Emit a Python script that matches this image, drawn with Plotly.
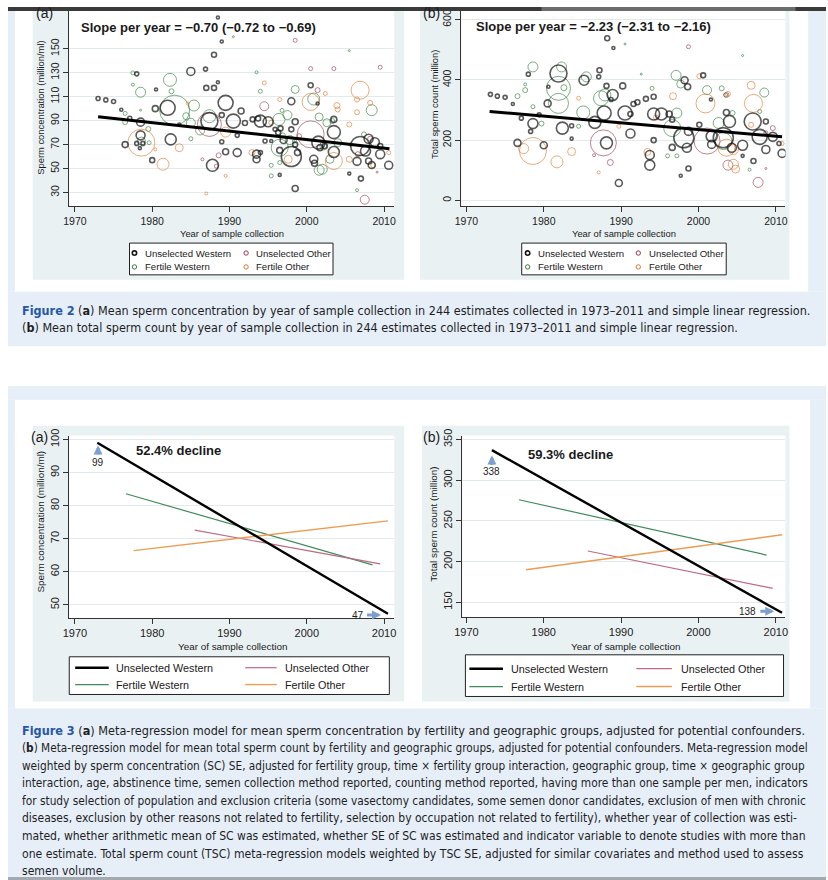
import plotly.graph_objects as go

W, H = 828, 880
SANS = "Liberation Sans, Arial, sans-serif"
CAP = "Liberation Sans Narrow, DejaVu Sans Condensed, Liberation Sans, sans-serif"

# ---------------- Figure 2 (a): sperm concentration scatter ----------------
a_uw_year = [1973.0, 1974.0, 1975.0, 1976.0, 1977.1, 1978.0, 1978.5, 1978.5, 1978.0, 1976.5, 1978.4, 1978.8,
             1980.0, 1980.5, 1980.4, 1982.0, 1982.4, 1985.0, 1983.5, 1986.9, 1987.0, 1988.0, 1988.0, 1988.5,
             1989.0, 1988.5, 1987.4, 1987.8, 1989.0, 1989.5, 1989.0, 1989.5, 1990.5, 1991.0, 1991.0, 1991.5,
             1992.0, 1993.0, 1993.7, 1993.5, 1993.5, 1994.0, 1994.0, 1995.0, 1994.6, 1995.4, 1996.3, 1995.9,
             1996.6, 1996.5, 1996.5, 1997.0, 1998.0, 1998.0, 1998.0, 1998.5, 1998.5, 1998.5, 1998.8, 2000.5,
             2001.4, 2001.0, 2001.5, 2001.7, 2000.9, 2003.5, 2003.5, 2003.5, 2002.3, 2005.5, 2006.9, 2007.0,
             2007.6, 2008.0, 2008.4, 2008.8, 2009.5, 2010.6, 2009.5, 2006.5, 2008.0]
a_uw_val = [108.4, 107.3, 106, 99, 92, 129, 88.7, 77.7, 71, 70, 67, 71,
            57, 116, 100, 100.7, 74.3, 131, 86.8, 133, 117.3, 117.3, 145, 122,
            156, 176, 89.6, 52.7, 72.4, 104.8, 94.6, 64, 89.6, 63.3, 77.7, 98,
            88, 91, 91.8, 62, 57.7, 63.3, 89.6, 89, 73, 73, 80, 82.7,
            83.5, 65.2, 44.7, 73.8, 106.2, 82.7, 60, 89, 33.3, 70, 63.3, 119.5,
            104.3, 54.4, 71.6, 67.4, 57.7, 91, 80.4, 63.8, 68.8, 45.8, 68.8, 41.6,
            64.6, 56.3, 53, 72, 62, 52.7, 68.8, 56, 74.8]
a_uw_size = [4, 4, 4, 3, 4, 4, 8, 9, 4, 6, 3, 4,
             5, 3, 6, 15, 11, 8, 3, 4, 5, 5, 5, 3,
             3, 3, 17, 12, 4, 15, 5, 6, 14, 8, 4, 6,
             5, 5, 5, 8, 7, 4, 12, 10, 4, 3, 5, 4,
             5, 6, 3, 7, 7, 5, 20, 6, 6, 5, 6, 5,
             3, 6, 13, 6, 8, 6, 13, 11, 5, 3, 19, 5,
             10, 6, 7, 9, 9, 8, 5, 8, 9]

a_fw_year = [1977.5, 1977.5, 1978.5, 1976.5, 1976.5, 1978.5, 1979.5, 1978.6, 1979.6, 1982.3, 1982.9, 1982.5,
             1984.4, 1985.0, 1985.4, 1985.0, 1986.2, 1987.4, 1993.5, 1994.0, 1996.4, 1996.8, 1997.5, 1996.5,
             1995.4, 1995.4, 1996.5, 1996.9, 1998.5, 1998.4, 1997.8, 2000.9, 2001.6, 2002.0, 2002.2, 2002.6,
             2003.3, 2003.0, 2004.0, 2005.5, 2006.5, 2007.4, 2008.4, 2001.6, 1990.5]
a_fw_val = [129.8, 120, 113.7, 96, 88.8, 98.7, 83, 73, 71.6, 124, 98.7, 114.5,
            93.7, 88.2, 102.6, 74.9, 81.8, 93.7, 130.3, 114.5, 91, 98.5, 94.6, 67.4,
            52.7, 43.9, 55, 77.7, 116, 73, 73.8, 108, 93, 49.4, 68.8, 88.2,
            89.6, 57.7, 71.6, 148.4, 32, 78.5, 98.7, 48.6, 160]
a_fw_size = [4, 3, 10, 4, 5, 2, 5, 8, 4, 13, 30, 5,
             7, 9, 11, 4, 9, 13, 3, 4, 12, 4, 9, 17,
             4, 4, 4, 5, 8, 4, 9, 12, 8, 10, 8, 8,
             5, 8, 8, 2, 3, 5, 11, 10, 2]

a_uo_year = [1998.5, 2000.5, 2003.5, 2009.5, 2001.4, 1994.5, 1987.4, 1988.6, 1986.5, 2000.5, 2008.2, 2009.1,
             2006.6, 1999.0, 2007.5, 1988.3]
a_uo_val = [157, 133.4, 133.4, 134.5, 115.4, 102, 86.8, 61, 57.7, 78.5, 74.9, 47,
            62, 77, 24, 52]
a_uo_size = [4, 4, 4, 4, 5, 9, 24, 5, 3, 27, 5, 2,
             5, 5, 9, 4]

a_fo_year = [1978.6, 1981.4, 1980.4, 1983.5, 1984.6, 1987.0, 1989.5, 1989.5, 1994.5, 1996.5, 1995.4, 2000.5,
             1997.6, 2002.4, 2003.9, 2004.0, 2006.9, 2006.5, 2006.5, 2005.5, 2008.2, 2003.5, 2008.6, 2010.6,
             2005.7, 1992.9, 2005.5]
a_fo_val = [71.6, 53.6, 66, 67.4, 104.3, 29.2, 43.9, 80.4, 121.5, 107.6, 88.2, 105.6,
            57.7, 112.6, 102.6, 99.3, 115.4, 107.6, 97, 86.8, 104.8, 56.3, 52.7, 63.3,
            70, 63.3, 57.7]
a_fo_size = [27, 12, 3, 8, 3, 3, 3, 10, 4, 4, 5, 17,
             8, 4, 6, 5, 18, 5, 5, 5, 5, 17, 5, 4,
             4, 6, 6]

a_reg_year = [1973.0, 2010.7]
a_reg_val = [93.2, 66.6]

# ---------------- Figure 2 (b): total sperm count scatter ----------------
b_uw_year = [1973.1, 1974.0, 1975.0, 1976.0, 1977.1, 1976.6, 1978.0, 1978.6, 1978.3, 1979.4, 1980.0, 1980.5,
             1980.6, 1981.9, 1982.4, 1983.6, 1983.6, 1985.2, 1987.2, 1987.1, 1986.6, 1987.8, 1988.1, 1988.1,
             1988.7, 1988.2, 1989.0, 1988.9, 1989.7, 1990.2, 1990.5, 1991.2, 1991.2, 1991.6, 1992.1, 1993.2,
             1993.7, 1993.7, 1994.2, 1994.2, 1994.2, 1995.2, 1996.2, 1996.6, 1996.6, 1997.7, 1998.1, 1998.2,
             1998.6, 1998.7, 1998.7, 1998.5, 2000.1, 2000.6, 2001.6, 2001.7, 2001.7, 2003.2, 2003.6, 2004.0,
             2004.3, 2005.7, 2005.7, 2007.1, 2007.0, 2007.9, 2008.7, 2008.7, 2009.6, 2010.8, 2010.4]
b_uw_val = [352, 346, 342, 320, 273, 191, 419, 255, 229, 284, 183, 322,
            377, 421, 240, 205, 248, 399, 432, 410, 259, 290, 191, 380,
            335, 538, 506, 350, 58, 380, 290, 222, 287, 320, 326, 337,
            117, 151, 344, 200, 287, 287, 287, 176, 268, 82, 208, 399,
            377, 106, 229, 175, 251, 415, 335, 213, 186, 208, 292, 262,
            175, 183, 148, 131, 262, 211, 262, 169, 211, 156, 189]
b_uw_size = [4, 4, 4, 3, 4, 7, 4, 10, 4, 4, 7, 7,
             3, 17, 12, 3, 4, 10, 5, 4, 12, 14, 12, 5,
             4, 5, 3, 11, 7, 6, 14, 9, 5, 5, 5, 5,
             10, 9, 5, 5, 12, 12, 6, 6, 5, 3, 20, 7,
             6, 5, 8, 9, 5, 5, 3, 11, 8, 20, 6, 12,
             9, 10, 3, 5, 17, 15, 5, 8, 9, 8, 4]

b_fw_year = [1978.6, 1977.6, 1977.6, 1976.6, 1978.6, 1979.7, 1981.9, 1982.3, 1982.6, 1981.9, 1985.1, 1985.5,
             1984.5, 1987.4, 1987.9, 1990.5, 1992.6, 1994.0, 1997.1, 1997.7, 1997.2, 1996.6, 2001.1, 2003.0,
             2003.6, 2002.6, 2003.2, 2004.4, 2008.5, 2007.9, 2005.7, 2006.6, 1997.2, 1996.0]
b_fw_val = [443, 385, 366, 346, 311, 255, 372, 443, 374, 322, 292, 410,
            246, 339, 350, 519, 419, 372, 415, 386, 290, 240, 366, 372,
            350, 257, 197, 290, 358, 295, 481, 102, 148, 148]
b_fw_size = [10, 3, 5, 5, 4, 5, 24, 10, 6, 20, 13, 10,
             4, 15, 12, 2, 2, 4, 10, 8, 10, 17, 9, 5,
             5, 11, 17, 5, 9, 4, 2, 3, 4, 4]

b_uo_year = [1998.7, 1987.7, 1988.6, 2001.1, 2003.5, 2003.8, 2008.7, 2008.7, 2009.6, 2007.7, 1986.5]
b_uo_val = [510, 191, 126, 197, 350, 117, 224, 106, 240, 60, 150]
b_uo_size = [4, 26, 6, 26, 4, 10, 4, 2, 5, 10, 3]

b_fo_year = [1978.6, 1977.4, 1981.7, 1983.6, 1984.5, 1987.1, 1989.7, 1994.5, 1996.7, 2000.9, 2000.1, 2003.8,
             2004.5, 2004.8, 2006.8, 2007.1, 2006.8, 2010.8, 1993.4, 2003.6, 2004.5]
b_fo_val = [164, 172, 128, 162, 339, 93, 246, 275, 346, 322, 412, 353,
            120, 104, 382, 322, 251, 189, 161, 175, 169]
b_fo_size = [27, 10, 12, 8, 4, 3, 4, 5, 7, 19, 5, 5,
             10, 8, 8, 18, 5, 4, 7, 17, 10]

b_reg_year = [1973.0, 2010.8]
b_reg_val = [295, 211]

# ---------------- Figure 3: meta-regression lines ----------------
c_uw_year, c_uw_val = [1972.9, 2010.5], [99, 47.3]
c_fw_year, c_fw_val = [1976.6, 2008.5], [83.6, 62.1]
c_uo_year, c_uo_val = [1985.5, 2009.5], [72.6, 62.4]
c_fo_year, c_fo_val = [1977.6, 2010.5], [66.4, 75.4]

d_uw_year, d_uw_val = [1973.3, 2010.8], [337, 137]
d_fw_year, d_fw_val = [1976.8, 2008.8], [276, 208]
d_uo_year, d_uo_val = [1985.7, 2009.6], [213, 167]
d_fo_year, d_fo_val = [1977.7, 2010.8], [190, 233]

year_ticks = [1970, 1980, 1990, 2000, 2010]
a_ticks = [30, 50, 70, 90, 110, 130, 150]
b_ticks = [0, 200, 400, 600]
c_ticks = [50, 60, 70, 80, 90, 100]
d_ticks = [150, 200, 250, 300, 350]

group_names = ["Unselected Western", "Unselected Other", "Fertile Western", "Fertile Other"]

# colours
C_UW, C_FW, C_UO, C_FO = "#141414", "#2f7d3a", "#9c3a4c", "#e0782c"
L_UW, L_FW, L_UO, L_FO = "#000000", "#3f8a5a", "#bd6a82", "#eb9d52"
PAGE_BLUE = "#e6eef8"
REGION = "#eaf1f3"
GRID = "#e2eaec"
AXIS = "#333333"


def fx(x):
    return x / W


def fy(y):
    return 1 - y / H


fig = go.Figure()


def add_scatter(xs, ys, sizes, color, lw, ax, name):
    fig.add_trace(go.Scatter(
        x=xs, y=ys, mode="markers", name=name, showlegend=False, hoverinfo="skip",
        marker=dict(symbol="circle-open", size=sizes, color=color, line=dict(width=lw, color=color)),
        xaxis="x" + ax, yaxis="y" + ax))


def add_line(xs, ys, color, lw, ax, name):
    fig.add_trace(go.Scatter(
        x=xs, y=ys, mode="lines", name=name, showlegend=False, hoverinfo="skip",
        line=dict(color=color, width=lw), xaxis="x" + ax, yaxis="y" + ax))


# Fig 2a
add_scatter(a_fw_year, a_fw_val, a_fw_size, C_FW, 0.9, "", group_names[2])
add_scatter(a_uo_year, a_uo_val, a_uo_size, C_UO, 0.9, "", group_names[1])
add_scatter(a_fo_year, a_fo_val, a_fo_size, C_FO, 0.9, "", group_names[3])
add_scatter(a_uw_year, a_uw_val, a_uw_size, C_UW, 1.6, "", group_names[0])
add_line(a_reg_year, a_reg_val, "#000000", 3, "", "fit")
# Fig 2b
add_scatter(b_fw_year, b_fw_val, b_fw_size, C_FW, 0.9, "2", group_names[2])
add_scatter(b_uo_year, b_uo_val, b_uo_size, C_UO, 0.9, "2", group_names[1])
add_scatter(b_fo_year, b_fo_val, b_fo_size, C_FO, 0.9, "2", group_names[3])
add_scatter(b_uw_year, b_uw_val, b_uw_size, C_UW, 1.6, "2", group_names[0])
add_line(b_reg_year, b_reg_val, "#000000", 3, "2", "fit")
# Fig 3a
add_line(c_fw_year, c_fw_val, L_FW, 1.2, "3", group_names[2])
add_line(c_uo_year, c_uo_val, L_UO, 1.2, "3", group_names[1])
add_line(c_fo_year, c_fo_val, L_FO, 1.4, "3", group_names[3])
add_line(c_uw_year, c_uw_val, L_UW, 2.4, "3", group_names[0])
# Fig 3b
add_line(d_fw_year, d_fw_val, L_FW, 1.2, "4", group_names[2])
add_line(d_uo_year, d_uo_val, L_UO, 1.2, "4", group_names[1])
add_line(d_fo_year, d_fo_val, L_FO, 1.4, "4", group_names[3])
add_line(d_uw_year, d_uw_val, L_UW, 2.4, "4", group_names[0])


def xax(x0, x1, rng, anchor, fs):
    return dict(domain=[fx(x0), fx(x1)], range=rng, tickmode="array", tickvals=year_ticks,
                ticktext=[str(v) for v in year_ticks], ticks="outside", ticklen=5, tickwidth=1,
                tickcolor=AXIS, showline=True, linecolor=AXIS, linewidth=1, showgrid=False,
                zeroline=False, anchor=anchor, tickfont=dict(family=SANS, size=fs, color="#222"),
                fixedrange=True)


def yax(top, bottom, rng, ticks, anchor, fs):
    return dict(domain=[fy(bottom), fy(top)], range=rng, tickmode="array", tickvals=ticks,
                ticktext=[str(v) for v in ticks], tickangle=-90, ticks="outside", ticklen=5,
                tickwidth=1, tickcolor=AXIS, showline=True, linecolor=AXIS, linewidth=1,
                showgrid=True, gridcolor=GRID, gridwidth=1, zeroline=False, anchor=anchor,
                tickfont=dict(family=SANS, size=fs, color="#222"), fixedrange=True)


shapes = []


def rect(x0, y0, x1, y1, color, layer="below", line=None):
    d = dict(type="rect", xref="paper", yref="paper", x0=fx(x0), x1=fx(x1), y0=fy(y1), y1=fy(y0),
             fillcolor=color, layer=layer, line=dict(width=0))
    if line:
        d["line"] = line
    shapes.append(d)


# page backgrounds
rect(0, 0, 7, 287, PAGE_BLUE)
rect(810, 0, 828, 287, PAGE_BLUE)
rect(0, 287, 828, 342, PAGE_BLUE)
rect(0, 382, 828, 396, PAGE_BLUE)
rect(0, 396, 7, 707, PAGE_BLUE)
rect(812, 396, 828, 707, PAGE_BLUE)
rect(0, 707, 828, 877, PAGE_BLUE)
rect(0, 877, 828, 880, "#a4a9ae")
# graph regions
rect(25, 0, 401, 275, REGION)
rect(417, 0, 791, 275, REGION)
rect(25, 422, 401, 700, REGION)
rect(419, 422, 791, 700, REGION)
# plot regions
rect(62, 0, 391, 200.7, "white")
rect(459, 0, 787, 200.7, "white")
rect(62, 432, 391, 616, "white")
rect(460, 432, 787, 615, "white")
# dark strip at top of page
rect(0, 0, 828, 4, "#3a3a3a", layer="above")
rect(540, 0, 797, 4, "#6c6c6c", layer="above")

annotations = []


def text(x, y, s, size=11, xanchor="left", bold=False, angle=0, color="#1a1a1a", font=SANS):
    if bold:
        s = "<b>" + s + "</b>"
    annotations.append(dict(xref="paper", yref="paper", x=fx(x), y=fy(y), text=s, showarrow=False,
                            xanchor=xanchor, yanchor="middle", textangle=angle,
                            font=dict(family=font, size=size, color=color)))


# legends
def legend_box(x0, y0, x1, y1):
    rect(x0, y0, x1, y1, "white", layer="above", line=dict(color="#222", width=1))


def legend_marker(cx, cy, color, lw):
    r = 2.2
    shapes.append(dict(type="circle", xref="paper", yref="paper", x0=fx(cx - r), x1=fx(cx + r),
                       y0=fy(cy + r), y1=fy(cy - r), line=dict(color=color, width=lw), layer="above"))


def legend_line(x0, x1, y, color, lw):
    shapes.append(dict(type="line", xref="paper", yref="paper", x0=fx(x0), x1=fx(x1), y0=fy(y), y1=fy(y),
                       line=dict(color=color, width=lw), layer="above"))


LEG2 = 9.6
LEG3 = 10.8
# Fig 2 legends
for (bx0, bx1, m1, t1, m2, t2) in [(123, 329, 128, 137, 241, 249), (520, 727, 526, 534, 638, 647)]:
    legend_box(bx0, 238, bx1, 270)
    legend_marker(m1, 248, C_UW, 1.6)
    text(t1, 248, group_names[0], LEG2)
    legend_marker(m2, 248, C_UO, 1)
    text(t2, 248, group_names[1], LEG2)
    legend_marker(m1, 262, C_FW, 1)
    text(t1, 262, group_names[2], LEG2)
    legend_marker(m2, 262, C_FO, 1)
    text(t2, 262, group_names[3], LEG2)

# Fig 3 legends
for (bx0, bx1, by0, by1, r1, r2, l1a, l1b, t1, l2a, l2b, t2) in [
        (62, 386, 655, 693, 666, 683, 68, 102, 107, 240, 272, 278),
        (463, 785, 653, 695, 667, 685, 467, 501, 507, 636, 672, 679)]:
    legend_box(bx0, by0, bx1, by1)
    legend_line(l1a, l1b, r1, L_UW, 2.4)
    text(t1, r1, group_names[0], LEG3)
    legend_line(l2a, l2b, r1, L_UO, 1.2)
    text(t2, r1, group_names[1], LEG3)
    legend_line(l1a, l1b, r2, L_FW, 1.2)
    text(t1, r2, group_names[2], LEG3)
    legend_line(l2a, l2b, r2, L_FO, 1.4)
    text(t2, r2, group_names[3], LEG3)

# panel labels
text(26, 6, "(a)", 14)
text(418, 6, "(b)", 14)
text(21, 433, "(a)", 14)
text(418, 433, "(b)", 14)

# in-plot headline texts
text(72, 21, "Slope per year = \u22120.70 (\u22120.72 to \u22120.69)", 13, bold=True)
text(472, 20, "Slope per year = \u22122.23 (\u22122.31 to \u22122.16)", 13, bold=True)
text(128, 447, "52.4% decline", 13, bold=True)
text(524, 451, "59.3% decline", 13, bold=True)

# axis titles
TT2 = 9.4
TT3 = 9.9
text(227, 228, "Year of sample collection", TT2, xanchor="center")
text(624, 228, "Year of sample collection", TT2, xanchor="center")
text(227, 645, "Year of sample collection", TT3, xanchor="center")
text(625, 645, "Year of sample collection", TT3, xanchor="center")
text(33, 102, "Sperm concentration (million/ml)", TT2, xanchor="center", angle=-90)
text(431, 98, "Total sperm count (million)", TT2, xanchor="center", angle=-90)
text(33, 519, "Sperm concentration (million/ml)", TT3, xanchor="center", angle=-90)
text(431, 521, "Total sperm count (million)", TT3, xanchor="center", angle=-90)

# arrows / end values in figure 3
ARROW = "#7c9fd2"
annotations += [
    dict(xref="x3", yref="y3", axref="x3", ayref="y3", x=1973.0, y=98.2, ax=1973.0, ay=95.0, text="",
         showarrow=True, arrowhead=2, arrowsize=0.6, arrowwidth=3, arrowcolor=ARROW),
    dict(xref="x3", yref="y3", x=1973.0, y=93.1, text="99", showarrow=False,
         font=dict(family=SANS, size=10, color="#222")),
    dict(xref="x3", yref="y3", axref="x3", ayref="y3", x=2009.6, y=46.9, ax=2007.6, ay=46.9, text="",
         showarrow=True, arrowhead=2, arrowsize=0.6, arrowwidth=3, arrowcolor=ARROW),
    dict(xref="x3", yref="y3", x=2006.6, y=46.9, text="47", showarrow=False,
         font=dict(family=SANS, size=10, color="#222")),
    dict(xref="x4", yref="y4", axref="x4", ayref="y4", x=1973.3, y=330.5, ax=1973.3, ay=317.0, text="",
         showarrow=True, arrowhead=2, arrowsize=0.6, arrowwidth=3, arrowcolor=ARROW),
    dict(xref="x4", yref="y4", x=1973.3, y=311, text="338", showarrow=False,
         font=dict(family=SANS, size=10, color="#222")),
    dict(xref="x4", yref="y4", axref="x4", ayref="y4", x=2009.8, y=139, ax=2007.8, ay=139, text="",
         showarrow=True, arrowhead=2, arrowsize=0.6, arrowwidth=3, arrowcolor=ARROW),
    dict(xref="x4", yref="y4", x=2006.4, y=139, text="138", showarrow=False,
         font=dict(family=SANS, size=10, color="#222")),
]

# captions (per-line font sizes approximate the justified setting of the original)
FIGBLUE = "#2757a6"
cap2 = [
    "<span style='color:%s'><b>Figure 2</b></span> (<b>a</b>) Mean sperm concentration by year of sample collection in 244 estimates collected in 1973\u20132011 and simple linear regression." % FIGBLUE,
    "(<b>b</b>) Mean total sperm count by year of sample collection in 244 estimates collected in 1973\u20132011 and simple linear regression.",
]
cap2_sizes = [12.5, 12.5]
cap3 = [
    "<span style='color:%s'><b>Figure 3</b></span> (<b>a</b>) Meta-regression model for mean sperm concentration by fertility and geographic groups, adjusted for potential confounders." % FIGBLUE,
    "(<b>b</b>) Meta-regression model for mean total sperm count by fertility and geographic groups, adjusted for potential confounders. Meta-regression model",
    "weighted by sperm concentration (SC) SE, adjusted for fertility group, time \u00d7 fertility group interaction, geographic group, time \u00d7 geographic group",
    "interaction, age, abstinence time, semen collection method reported, counting method reported, having more than one sample per men, indicators",
    "for study selection of population and exclusion criteria (some vasectomy candidates, some semen donor candidates, exclusion of men with chronic",
    "diseases, exclusion by other reasons not related to fertility, selection by occupation not related to fertility), whether year of collection was esti-",
    "mated, whether arithmetic mean of SC was estimated, whether SE of SC was estimated and indicator variable to denote studies with more than",
    "one estimate. Total sperm count (TSC) meta-regression models weighted by TSC SE, adjusted for similar covariates and method used to assess",
    "semen volume.",
]
cap3_sizes = [12.55, 11.7, 11.72, 11.8, 11.8, 12.0, 12.05, 12.1, 12.1]
for i, s in enumerate(cap2):
    text(12, 306 + i * 17, s, cap2_sizes[i], font=CAP, color="#1e1e1e")
for i, s in enumerate(cap3):
    text(12, 729 + i * 17.8, s, cap3_sizes[i], font=CAP, color="#1e1e1e")

fig.update_layout(
    width=W, height=H, margin=dict(l=0, r=0, t=0, b=0), autosize=False,
    paper_bgcolor="white", plot_bgcolor="rgba(0,0,0,0)", showlegend=False,
    xaxis=xax(62, 391, [1969.27, 2011.32], "y", 10.5),
    yaxis=yax(0, 200.7, [18.66, 184.8], a_ticks, "x", 10.5),
    xaxis2=xax(459, 787, [1969.36, 2011.24], "y2", 10.5),
    yaxis2=yax(0, 200.7, [-18.8, 641.8], b_ticks, "x2", 10.5),
    xaxis3=xax(62, 391, [1969.27, 2011.32], "y3", 11),
    yaxis3=yax(432, 616, [45.98, 101.2], c_ticks, "x3", 11),
    xaxis4=xax(460, 787, [1969.49, 2011.25], "y4", 11),
    yaxis4=yax(432, 615, [131.7, 354.9], d_ticks, "x4", 11),
    shapes=shapes, annotations=annotations,
)

fig.write_html("out.html", config={"displayModeBar": False},
               post_script="document.body.style.margin='0';document.body.style.padding='0';")
